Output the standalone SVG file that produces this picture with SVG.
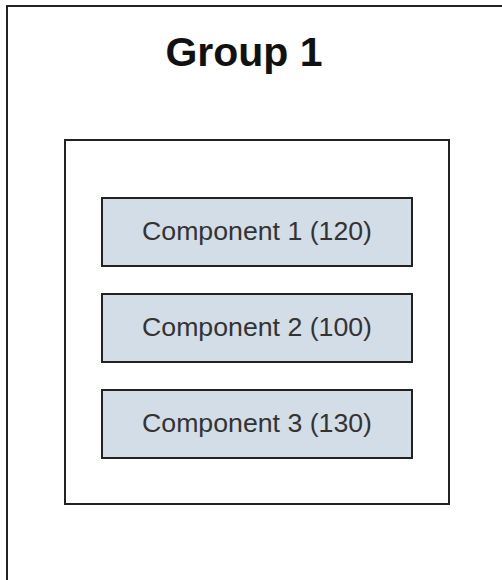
<svg xmlns="http://www.w3.org/2000/svg" width="502" height="580" viewBox="0 0 502 580">
<style>
.frame{fill:#ffffff;stroke:#222222;stroke-width:2}
.comp{fill:#d3dde7;stroke:#222222;stroke-width:2}
.title{font-family:"Liberation Sans",Arial,sans-serif;font-weight:bold;font-size:41px;fill:#111111;text-anchor:middle}
.label{font-family:"Liberation Sans",Arial,sans-serif;font-size:26.7px;fill:#333333;text-anchor:middle}
</style>
<rect x="0" y="0" width="502" height="580" fill="#ffffff"/>
<g id="group1">
<rect class="frame" x="7" y="6" width="520" height="600"/>
<text class="title" x="244" y="66">Group 1</text>
</g>
<g id="container">
<rect class="frame" x="65" y="140" width="384" height="364"/>
</g>
<g id="component1">
<rect class="comp" x="102" y="198" width="310" height="68"/>
<text class="label" x="257" y="240">Component 1 (120)</text>
</g>
<g id="component2">
<rect class="comp" x="102" y="294" width="310" height="68"/>
<text class="label" x="257" y="336">Component 2 (100)</text>
</g>
<g id="component3">
<rect class="comp" x="102" y="390" width="310" height="68"/>
<text class="label" x="257" y="432">Component 3 (130)</text>
</g>
<g id="connectors"></g>
</svg>
